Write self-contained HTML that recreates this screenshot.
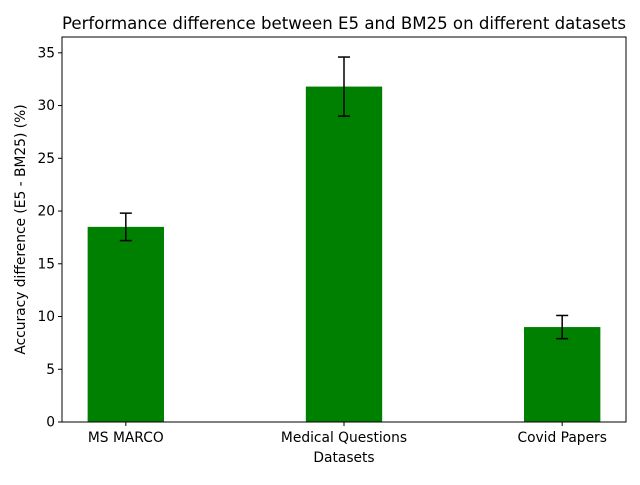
<!DOCTYPE html>
<html><head><meta charset="utf-8"><style>
body{margin:0;background:#fff;}
svg text{font-family:"DejaVu Sans","Liberation Sans",sans-serif;fill:#000;}
</style></head><body>
<svg id="chart" width="640" height="480" viewBox="0 0 640 480">
<text x="344" y="29" font-size="16.6" text-anchor="middle">Performance difference between E5 and BM25 on different datasets</text>
<g id="bars"></g><g id="axes"></g>
<text x="344" y="462" font-size="13.8" text-anchor="middle">Datasets</text>
<text transform="translate(25,229.5) rotate(-90)" font-size="13.8" text-anchor="middle">Accuracy difference (E5 - BM25) (%)</text>
</svg>
<script>
const categories=["MS MARCO","Medical Questions","Covid Papers"];
const values=[18.5,31.8,9.0];
const errors=[1.3,2.8,1.1];
const yTicks=[0,5,10,15,20,25,30,35];
const NS="http://www.w3.org/2000/svg";
const L=62,R=626,T=37,B=422;
const xMin=-0.2925,xMax=2.2925,yMin=0,yMax=36.5;
const xs=v=>L+(v-xMin)/(xMax-xMin)*(R-L);
const ys=v=>B-(v-yMin)/(yMax-yMin)*(B-T);
function mk(tag,attrs,parent){const e=document.createElementNS(NS,tag);for(const k in attrs)e.setAttribute(k,attrs[k]);parent.appendChild(e);return e;}
const bars=document.getElementById('bars'),axes=document.getElementById('axes');
const bw=0.35;
values.forEach((v,i)=>{
 const r=mk('rect',{x:xs(i-bw/2),y:ys(v),width:xs(i+bw/2)-xs(i-bw/2),height:ys(0)-ys(v),fill:'#008000'},bars);
 
 
 const cx=xs(i),y1=ys(v+errors[i]),y2=ys(v-errors[i]);
 const g=mk('g',{stroke:'#000','stroke-width':1.5},bars);
 
 
 mk('line',{x1:cx,x2:cx,y1:y1,y2:y2},g);
 mk('line',{x1:cx-6,x2:cx+6,y1:y1,y2:y1},g);
 mk('line',{x1:cx-6,x2:cx+6,y1:y2,y2:y2},g);
 const t=mk('text',{x:cx,y:B+20,'font-size':13.8,'text-anchor':'middle'},axes);
 t.textContent=categories[i];
 
 
 mk('line',{x1:cx,x2:cx,y1:B,y2:B+4,stroke:'#000'},axes);
});
yTicks.forEach(v=>{
 const y=ys(v);
 mk('line',{x1:L-4,x2:L,y1:y,y2:y,stroke:'#000'},axes);
 const t=mk('text',{x:L-7,y:y+4.5,'font-size':13.8,'text-anchor':'end'},axes);
 t.textContent=v;
 
 
});
const f=mk('rect',{x:L,y:T,width:R-L,height:B-T,fill:'none',stroke:'#000','stroke-width':1},axes);


</script>
</body></html>
